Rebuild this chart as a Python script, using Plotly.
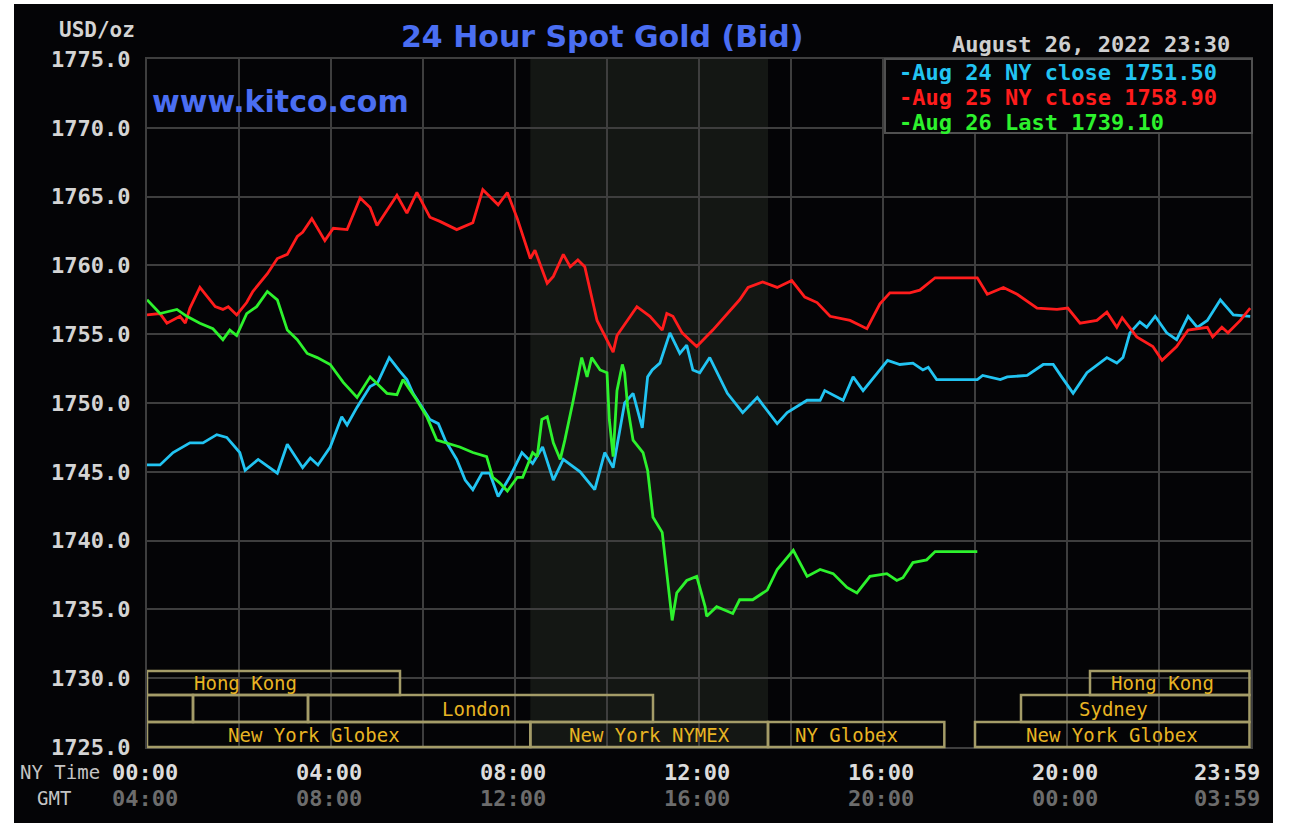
import plotly.graph_objects as go

# ---------------- data (minutes after NY midnight, USD/oz) ----------------
aug24_t = [0, 17, 34, 56, 73, 91, 104, 121, 128, 145, 170, 183, 203, 213, 223, 239, 254, 261, 274, 291,
           301, 316, 330, 339, 347, 359, 369, 380, 389, 404, 415, 425, 437, 447, 458, 473, 489, 503, 516,
           530, 543, 565, 584, 597, 608, 623, 634, 646, 653, 659, 669, 682, 695, 704, 712, 721, 734, 757,
           777, 796, 822, 835, 861, 878, 884, 908, 921, 934, 966, 982, 999, 1012, 1019, 1030, 1083, 1090,
           1113, 1122, 1148, 1169, 1182, 1193, 1208, 1226, 1252, 1265, 1273, 1282, 1295, 1304, 1315, 1330,
           1343, 1358, 1370, 1383, 1400, 1417, 1439]
aug24_v = [1745.5, 1745.5, 1746.4, 1747.1, 1747.1, 1747.7, 1747.5, 1746.4, 1745.1, 1745.9, 1744.9, 1747.0,
           1745.3, 1746.0, 1745.5, 1746.8, 1749.0, 1748.4, 1749.7, 1751.2, 1751.5, 1753.3, 1752.3, 1751.7,
           1750.7, 1749.7, 1748.8, 1748.5, 1747.3, 1745.9, 1744.4, 1743.7, 1744.9, 1744.9, 1743.2, 1744.6,
           1746.4, 1745.6, 1746.8, 1744.4, 1745.9, 1745.0, 1743.7, 1746.4, 1745.3, 1750.0, 1750.7, 1748.2,
           1751.9, 1752.4, 1752.9, 1755.1, 1753.6, 1754.2, 1752.4, 1752.2, 1753.3, 1750.7, 1749.3, 1750.4,
           1748.5, 1749.3, 1750.2, 1750.2, 1750.9, 1750.2, 1751.9, 1750.9, 1753.1, 1752.8, 1752.9, 1752.4,
           1752.6, 1751.7, 1751.7, 1752.0, 1751.7, 1751.9, 1752.0, 1752.8, 1752.8, 1751.9, 1750.7, 1752.2,
           1753.3, 1752.9, 1753.3, 1755.1, 1755.9, 1755.5, 1756.3, 1755.1, 1754.6, 1756.3, 1755.5, 1756.0,
           1757.5, 1756.4, 1756.3]

aug25_t = [0, 17, 26, 43, 50, 56, 69, 89, 99, 106, 117, 130, 138, 157, 170, 183, 196, 203, 215, 232, 243,
           261, 278, 291, 300, 313, 326, 339, 352, 369, 382, 404, 425, 438, 458, 470, 483, 500, 506, 522,
           530, 543, 552, 562, 571, 587, 600, 608, 613, 639, 656, 672, 678, 686, 698, 717, 738, 757, 773,
           784, 803, 822, 841, 858, 874, 891, 917, 939, 956, 969, 995, 1008, 1028, 1083, 1096, 1117, 1135,
           1161, 1187, 1201, 1217, 1239, 1252, 1265, 1272, 1291, 1312, 1324, 1343, 1358, 1383, 1390, 1402,
           1410, 1426, 1439]
aug25_v = [1756.4, 1756.5, 1755.8, 1756.3, 1755.8, 1756.9, 1758.4, 1757.0, 1756.8, 1757.0, 1756.4, 1757.3,
           1758.1, 1759.4, 1760.5, 1760.8, 1762.1, 1762.4, 1763.4, 1761.8, 1762.7, 1762.6, 1764.9, 1764.2,
           1762.9, 1764.0, 1765.1, 1763.8, 1765.3, 1763.5, 1763.2, 1762.6, 1763.1, 1765.5, 1764.4, 1765.3,
           1763.4, 1760.5, 1761.1, 1758.7, 1759.2, 1760.8, 1759.9, 1760.4, 1759.9, 1756.0, 1754.6, 1753.7,
           1754.9, 1757.0, 1756.3, 1755.3, 1756.5, 1756.3, 1755.1, 1754.1, 1755.3, 1756.5, 1757.5, 1758.4,
           1758.8, 1758.4, 1758.9, 1757.7, 1757.3, 1756.3, 1756.0, 1755.4, 1757.2, 1758.0, 1758.0, 1758.2,
           1759.1, 1759.1, 1757.9, 1758.4, 1757.9, 1756.9, 1756.8, 1756.9, 1755.8, 1756.0, 1756.6, 1755.5,
           1756.2, 1754.8, 1754.1, 1753.1, 1754.1, 1755.3, 1755.5, 1754.8, 1755.5, 1755.1, 1756.0, 1756.9]

aug26_t = [0, 8, 17, 39, 52, 69, 86, 99, 108, 117, 130, 143, 157, 170, 183, 196, 209, 222, 239, 256, 274,
           291, 313, 326, 334, 352, 365, 378, 391, 408, 425, 443, 451, 460, 470, 483, 490, 503, 509, 515,
           522, 530, 539, 545, 556, 567, 574, 580, 591, 600, 603, 608, 613, 620, 623, 627, 634, 647, 653,
           660, 672, 680, 685, 691, 704, 717, 728, 730, 743, 764, 773, 790, 809, 822, 843, 861, 878, 895,
           913, 926, 943, 965, 978, 986, 999, 1017, 1028, 1083]
aug26_v = [1757.5, 1757.0, 1756.5, 1756.8, 1756.3, 1755.8, 1755.4, 1754.6, 1755.3, 1754.9, 1756.5, 1757.0,
           1758.1, 1757.5, 1755.3, 1754.6, 1753.6, 1753.3, 1752.8, 1751.5, 1750.4, 1751.9, 1750.7, 1750.6,
           1751.7, 1750.2, 1749.0, 1747.3, 1747.1, 1746.8, 1746.4, 1746.1, 1744.6, 1744.2, 1743.6, 1744.6,
           1744.6, 1746.4, 1746.1, 1748.8, 1749.0, 1747.1, 1745.9, 1747.3, 1750.2, 1753.3, 1751.9, 1753.3,
           1752.4, 1752.2, 1748.8, 1746.1, 1750.9, 1752.8, 1752.2, 1749.7, 1747.3, 1746.4, 1745.1, 1741.7,
           1740.6, 1736.9, 1734.2, 1736.2, 1737.1, 1737.4, 1735.2, 1734.5, 1735.2, 1734.7, 1735.7, 1735.7,
           1736.4, 1737.9, 1739.3, 1737.4, 1737.9, 1737.6, 1736.6, 1736.2, 1737.4, 1737.6, 1737.1, 1737.3,
           1738.4, 1738.6, 1739.2, 1739.2]

series_names = ["Aug 24 NY close 1751.50", "Aug 25 NY close 1758.90", "Aug 26 Last 1739.10"]

x_tick_minutes = [0, 240, 480, 720, 960, 1200, 1439]
ny_labels = ["00:00", "04:00", "08:00", "12:00", "16:00", "20:00", "23:59"]
gmt_labels = ["04:00", "08:00", "12:00", "16:00", "20:00", "00:00", "03:59"]

# sessions: (row, start minute, end minute, label, label minute)
sessions = [
    (1, 0, 330, "Hong Kong", 128),
    (1, 1230, 1438, "Hong Kong", 1324),
    (2, 0, 60, "", None),
    (2, 60, 210, "", None),
    (2, 210, 660, "London", 430),
    (2, 1140, 1438, "Sydney", 1260),
    (3, 0, 500, "New York Globex", 218),
    (3, 500, 810, "New York NYMEX", 655),
    (3, 810, 1040, "NY Globex", 913),
    (3, 1080, 1438, "New York Globex", 1259),
]
nymex_start, nymex_end = 500, 810

# ---------------- styling ----------------
W, H = 1290, 832
L, R, T, B = 147, 1251, 59, 747
MONO = "DejaVu Sans Mono"
colors = ["#22c4f2", "#ff1c1c", "#2df22d"]


def px(xp):
    return (xp - L) / (R - L)


def py(yp):
    return (B - yp) / (B - T)


fig = go.Figure()
for t, v, c, n in zip([aug24_t, aug25_t, aug26_t], [aug24_v, aug25_v, aug26_v], colors, series_names):
    fig.add_trace(go.Scatter(x=t, y=v, mode="lines", name=n, line=dict(color=c, width=2.8),
                             hoverinfo="skip", showlegend=False))

shapes = []
# outer black panel
shapes.append(dict(type="rect", xref="paper", yref="paper", x0=px(14), x1=px(1273), y0=py(823), y1=py(4),
                   fillcolor="#040406", line=dict(width=0), layer="below"))
# NYMEX shading
shapes.append(dict(type="rect", xref="x", yref="paper", x0=nymex_start, x1=nymex_end, y0=0, y1=1,
                   fillcolor="#141714", line=dict(width=0), layer="below"))
# session boxes
row_edges = {1: (py(695), py(671)), 2: (py(722), py(695)), 3: (py(747), py(722))}
annotations = []
for row, s, e, lab, lm in sessions:
    y0, y1 = row_edges[row]
    shapes.append(dict(type="rect", xref="x", yref="paper", x0=s, x1=e, y0=y0, y1=y1,
                       line=dict(color="#a49c68", width=2.5), fillcolor="rgba(0,0,0,0)", layer="above"))
    if lab:
        annotations.append(dict(x=lm, y=(y0 + y1) / 2, xref="x", yref="paper", text=lab, showarrow=False,
                                xanchor="center", yanchor="middle",
                                font=dict(family=MONO, size=19, color="#e8b423")))
# legend box
shapes.append(dict(type="rect", xref="paper", yref="paper", x0=px(885), x1=px(1252), y0=py(133), y1=py(59),
                   fillcolor="#040406", line=dict(color="#505050", width=2), layer="above"))

# legend texts
for n, c, yy in zip(series_names, colors, [72, 97, 122]):
    annotations.append(dict(x=px(897), y=py(yy), xref="paper", yref="paper", text="-" + n, showarrow=False,
                            xanchor="left", yanchor="middle",
                            font=dict(family=MONO, size=22, color=c, weight="bold")))

# title / headers
annotations.append(dict(x=px(602), y=py(36), xref="paper", yref="paper", text="24 Hour Spot Gold (Bid)",
                        showarrow=False, xanchor="center", yanchor="middle",
                        font=dict(family="DejaVu Sans", size=30, color="#4a6ef2", weight="bold")))
annotations.append(dict(x=px(150), y=py(101), xref="paper", yref="paper", text="www.kitco.com",
                        showarrow=False, xanchor="left", yanchor="middle",
                        font=dict(family="DejaVu Sans", size=30, color="#4a6ef2", weight="bold")))
annotations.append(dict(x=px(137), y=py(30), xref="paper", yref="paper", text="USD/oz", showarrow=False,
                        xanchor="right", yanchor="middle",
                        font=dict(family=MONO, size=21, color="#d4d4d4", weight="bold")))
annotations.append(dict(x=px(1232), y=py(44), xref="paper", yref="paper", text="August 26, 2022 23:30",
                        showarrow=False, xanchor="right", yanchor="middle",
                        font=dict(family=MONO, size=22, color="#cfcfcf", weight="bold")))
annotations.append(dict(x=px(102), y=py(772), xref="paper", yref="paper", text="NY Time", showarrow=False,
                        xanchor="right", yanchor="middle", font=dict(family=MONO, size=19, color="#c4c4c4")))
annotations.append(dict(x=px(54), y=py(798), xref="paper", yref="paper", text="GMT", showarrow=False,
                        xanchor="center", yanchor="middle", font=dict(family=MONO, size=19, color="#c4c4c4")))

for m, ny, g in zip(x_tick_minutes, ny_labels, gmt_labels):
    last = m == x_tick_minutes[-1]
    kw = dict(xanchor="right", xshift=12) if last else dict(xanchor="center", xshift=-2)
    annotations.append(dict(x=m, y=py(772), xref="x", yref="paper", text=ny, showarrow=False, yanchor="middle",
                            font=dict(family=MONO, size=22, color="#dcdcdc", weight="bold"), **kw))
    annotations.append(dict(x=m, y=py(798), xref="x", yref="paper", text=g, showarrow=False, yanchor="middle",
                            font=dict(family=MONO, size=22, color="#6c6c6c", weight="bold"), **kw))

fig.update_layout(
    width=W, height=H, autosize=False,
    margin=dict(l=L, r=W - R, t=T, b=H - B, pad=0),
    paper_bgcolor="#ffffff", plot_bgcolor="#040406",
    shapes=shapes, annotations=annotations,
    showlegend=False,
    xaxis=dict(range=[0, 1440], tickmode="array", tickvals=list(range(0, 1441, 120)), showticklabels=False,
               showgrid=True, gridcolor="#3e3e3e", gridwidth=2, zeroline=False, ticks="",
               showline=True, linecolor="#3e3e3e", linewidth=2, mirror=True, fixedrange=True),
    yaxis=dict(range=[1725, 1775], tickmode="linear", tick0=1725, dtick=5, tickformat=".1f",
               showgrid=True, gridcolor="#3e3e3e", gridwidth=2, zeroline=False, ticks="",
               ticklabelstandoff=10, showline=True, linecolor="#3e3e3e", linewidth=2, mirror=True,
               tickfont=dict(family=MONO, size=22, color="#d4d4d4", weight="bold"), fixedrange=True),
)

fig.write_html("out.html")
